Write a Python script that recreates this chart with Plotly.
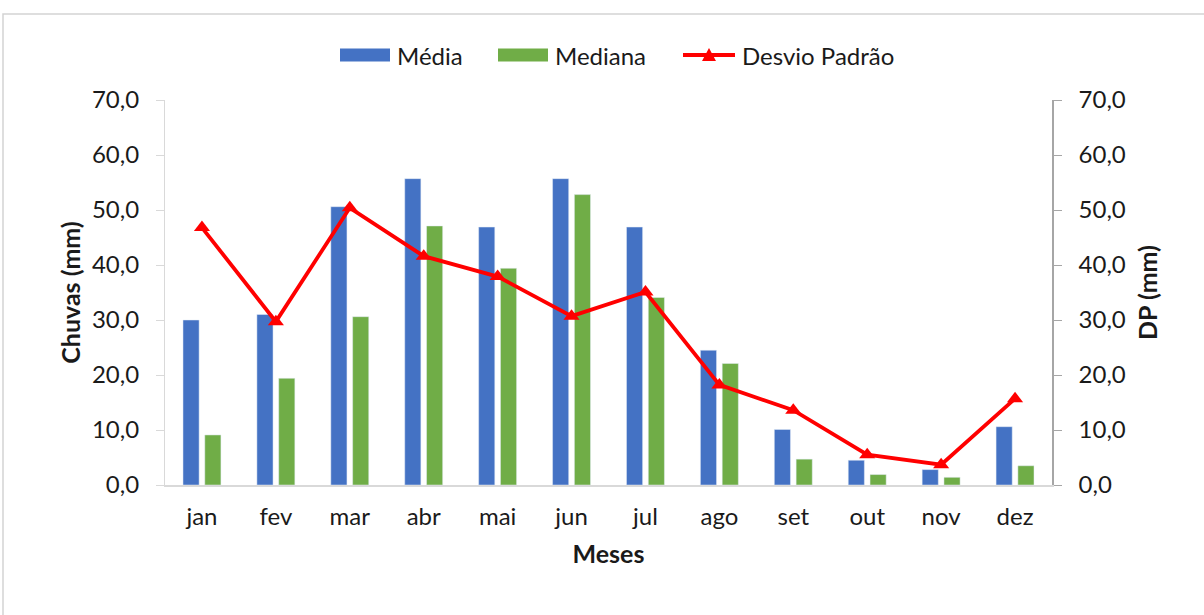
import plotly.graph_objects as go

# Monthly rainfall statistics
meses = ["jan", "fev", "mar", "abr", "mai", "jun", "jul", "ago", "set", "out", "nov", "dez"]
media = [30.0, 31.0, 50.6, 55.7, 46.9, 55.7, 46.9, 24.5, 10.1, 4.5, 2.8, 10.6]
mediana = [9.1, 19.4, 30.6, 47.1, 39.4, 52.8, 34.1, 22.1, 4.7, 1.9, 1.4, 3.5]
desvio = [46.8, 29.7, 50.4, 41.6, 37.9, 30.7, 35.1, 18.2, 13.6, 5.5, 3.7, 15.7]

AZUL = "#4472C4"
VERDE = "#70AD47"
VERMELHO = "#FF0000"
FONTE = "Lato"
TEXTO = "#1a1a1a"

W, H = 1204, 615
ML, MR, MT, MB = 165, 152, 100, 130
PW, PH = W - ML - MR, H - MT - MB


def px(x):
    return (x - ML) / PW


def py(y):
    return (H - MB - y) / PH


fig = go.Figure()
fig.add_trace(go.Bar(x=meses, y=media, name="Média", marker_color=AZUL, showlegend=False))
fig.add_trace(go.Bar(x=meses, y=mediana, name="Mediana", marker_color=VERDE, showlegend=False))
fig.add_trace(go.Scatter(
    x=meses, y=desvio, name="Desvio Padrão", yaxis="y2", mode="lines+markers",
    line=dict(color=VERMELHO, width=3.8),
    marker=dict(symbol="triangle-up", size=14, color=VERMELHO),
    showlegend=False,
))

eixo_y = dict(
    range=[0, 70], dtick=10, tickformat=".1f", showgrid=False, zeroline=False,
    showline=True, ticks="outside", ticklen=8, tickwidth=1.2,
    tickfont=dict(family=FONTE, size=24, color=TEXTO),
    ticklabelstandoff=12,
)
fonte_titulo = dict(family=FONTE, size=25, color=TEXTO)

shapes = [
    # outer frame of the chart area
    dict(type="rect", xref="paper", yref="paper",
         x0=px(3), x1=px(W + 20), y0=py(H + 20), y1=py(14),
         line=dict(color="#d3d3d3", width=1.5), fillcolor="rgba(0,0,0,0)", layer="below"),
]
annotations = []

# legend drawn across the top
leg_y = 55
legenda = [
    ("Média", AZUL, 340, 390, 395),
    ("Mediana", VERDE, 498, 548, 553),
]
for nome, cor, x0, x1, xt in legenda:
    shapes.append(dict(type="rect", xref="paper", yref="paper",
                       x0=px(x0), x1=px(x1), y0=py(leg_y + 6.5), y1=py(leg_y - 6.5),
                       fillcolor=cor, line=dict(width=0)))
    annotations.append(dict(text=nome, xref="paper", yref="paper", x=px(xt), y=py(leg_y),
                            xanchor="left", yanchor="middle", showarrow=False,
                            font=dict(family=FONTE, size=24, color=TEXTO)))
shapes.append(dict(type="line", xref="paper", yref="paper",
                   x0=px(683), x1=px(735), y0=py(leg_y), y1=py(leg_y),
                   line=dict(color=VERMELHO, width=3.8)))
shapes.append(dict(type="path", xref="paper", yref="paper",
                   path=f"M {px(702)} {py(leg_y + 6)} L {px(716)} {py(leg_y + 6)} L {px(709)} {py(leg_y - 7)} Z",
                   fillcolor=VERMELHO, line=dict(width=0)))
annotations.append(dict(text="Desvio Padrão", xref="paper", yref="paper", x=px(740), y=py(leg_y),
                        xanchor="left", yanchor="middle", showarrow=False,
                        font=dict(family=FONTE, size=24, color=TEXTO)))

fig.update_layout(
    width=W, height=H,
    margin=dict(l=ML, r=MR, t=MT, b=MB, autoexpand=False),
    paper_bgcolor="white", plot_bgcolor="white",
    separators=",.",
    barmode="group", bargap=0.41, bargroupgap=0.26,
    font=dict(family=FONTE, color=TEXTO),
    xaxis=dict(
        range=[-0.5, len(meses) - 0.5],
        showline=True, linecolor="#d9d9d9", linewidth=1.5, ticks="",
        tickfont=dict(family=FONTE, size=24, color=TEXTO),
        ticklabelstandoff=9,
        title=dict(text="<b>Meses</b>", font=fonte_titulo, standoff=17),
    ),
    yaxis=dict(
        **eixo_y, linecolor="#d9d9d9", linewidth=1.2, tickcolor="#d9d9d9",
        title=dict(text="<b>Chuvas (mm)</b>", font=fonte_titulo, standoff=4),
    ),
    yaxis2=dict(
        **eixo_y, overlaying="y", side="right", linecolor="#a6a6a6", linewidth=1.5, tickcolor="#a6a6a6",
        title=dict(text="<b>DP (mm)</b>", font=fonte_titulo, standoff=15),
    ),
    shapes=shapes,
    annotations=annotations,
)

fig.write_html("out.html")
